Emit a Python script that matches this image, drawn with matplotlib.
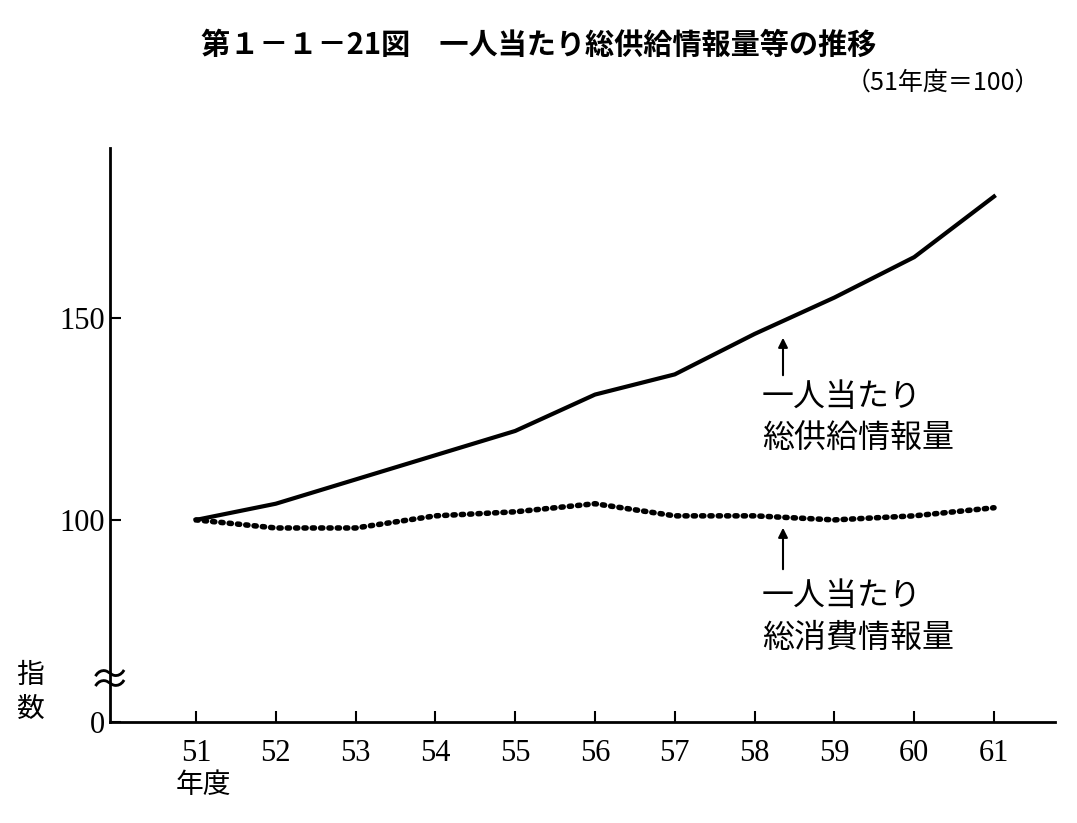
import matplotlib
matplotlib.use("Agg")
import matplotlib.pyplot as plt

plt.rcParams["font.family"] = ["Noto Sans CJK JP"]

years = [51, 52, 53, 54, 55, 56, 57, 58, 59, 60, 61]
supply = [100, 104, 110, 116, 122, 131, 136, 146, 155, 165, 180]
consume = [100, 98, 98, 101, 102, 104, 101, 101, 100, 101, 103]
tick_labels = ["0", "100", "150"]

# axis is broken between 0 and 100: shift values >= 100 down by 50
def shift(v):
    return [x - 50 for x in v]

fig = plt.figure(figsize=(10.77, 8.23), dpi=100)
W, H = 1077, 823
ax = fig.add_axes([110 / W, 101 / H, (1055 - 110) / W, (722 - 148) / H])
ax.plot(years, shift(supply), color="black", lw=3)
ax.plot(years, shift(consume), color="black", lw=4, linestyle=(0, (0.4, 1.1)),
        dash_capstyle="round")

ax.set_xlim(51 - 86 / 79.8, 51 + (1055 - 196) / 79.8)
ax.set_ylim(0, 142)
for s in ("top", "right"):
    ax.spines[s].set_visible(False)
ax.spines["left"].set_linewidth(2)
ax.spines["bottom"].set_linewidth(2)
ax.set_xticks(years)
ax.set_xticklabels([str(y) for y in years], fontsize=22, family="Liberation Serif")
ax.set_yticks([0, 50, 100])
ax.set_yticklabels(tick_labels, fontsize=22, family="Liberation Serif")
ax.tick_params(direction="in", length=8, width=1.5)
ax.tick_params(axis="x", pad=12)

fig.text(0.5, 1 - 45 / H, "第１－１－21図　一人当たり総供給情報量等の推移",
         ha="center", va="center", fontsize=21, fontweight="bold")
fig.text(1040 / W, 1 - 83 / H, "（51年度＝100）", ha="right", va="center", fontsize=18)
fig.text(762 / W, 1 - 418 / H, "一人当たり\n総供給情報量", ha="left", va="center",
         fontsize=23, linespacing=1.4)
fig.text(762 / W, 1 - 617 / H, "一人当たり\n総消費情報量", ha="left", va="center",
         fontsize=23, linespacing=1.4)
fig.text(176 / W, 1 - 785 / H, "年度", ha="left", va="center", fontsize=20)
fig.text(30 / W, 1 - 692 / H, "指\n数", ha="center", va="center", fontsize=20, linespacing=1.2)
fig.text(110 / W, 1 - 683 / H, "≈", ha="center", va="center", fontsize=30)

fig.add_artist(matplotlib.patches.FancyArrowPatch((783 / W, 1 - 378 / H), (783 / W, 1 - 335 / H),
               transform=fig.transFigure, arrowstyle="-|>", mutation_scale=14, color="black", lw=1.5))
fig.add_artist(matplotlib.patches.FancyArrowPatch((783 / W, 1 - 572 / H), (783 / W, 1 - 525 / H),
               transform=fig.transFigure, arrowstyle="-|>", mutation_scale=14, color="black", lw=1.5))

fig.savefig("out.png", dpi=100)
